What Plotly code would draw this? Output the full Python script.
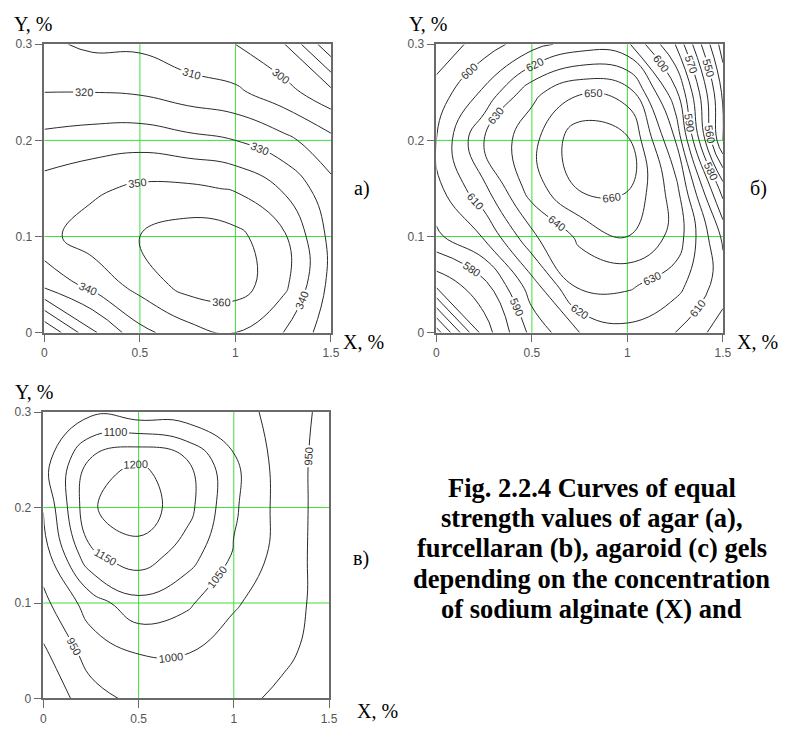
import plotly.graph_objects as go

W, H = 794, 730

# Grid of concentrations
X = [0, 0.25, 0.5, 0.75, 1.0, 1.25, 1.5]
Y = [0, 0.05, 0.1, 0.15, 0.2, 0.25, 0.3]

# a) agar gel strength (rows: Y from 0 to 0.3, columns: X from 0 to 1.5)
Z_agar = [
    [290, 318, 337, 346, 350, 340, 324],
    [333, 343, 354, 364, 365, 353, 327],
    [347, 355, 360, 365, 363, 352, 327],
    [344, 348, 352, 352, 349, 339, 323],
    [333, 335, 336, 333, 330, 323, 313],
    [320, 320, 319, 315, 312, 304, 293],
    [312, 308, 308, 303, 300, 291, 262],
]

# б) furcellaran gel strength
Z_furc = [
    [515, 565, 593, 610, 617, 610, 595],
    [563, 577, 606, 633, 632, 624, 605],
    [588, 601, 628, 642, 650, 637, 598],
    [597, 618, 645, 661, 661, 634, 575],
    [600, 630, 647, 667, 662, 620, 540],
    [594, 612, 637, 649, 645, 603, 538],
    [583, 595, 606, 615, 612, 580, 525],
]

# в) agaroid gel strength
Z_agaroid = [
    [860, 930, 965, 972, 960, 943, 925],
    [893, 975, 1004, 1003, 980, 958, 935],
    [937, 1025, 1085, 1060, 1005, 975, 928],
    [975, 1140, 1180, 1125, 1045, 980, 925],
    [1003, 1195, 1230, 1170, 1058, 982, 925],
    [1030, 1155, 1198, 1152, 1055, 980, 927],
    [1010, 1040, 1020, 1020, 1025, 978, 935],
]

levels = {
    "a": (260, 360, 10),
    "b": (520, 660, 10),
    "c": (900, 1200, 50),
}

x_ticks = [0, 0.5, 1, 1.5]
x_ticktext = ["0", "0.5", "1", "1.5"]
y_ticks = [0, 0.1, 0.2, 0.3]
y_ticktext = ["0", "0.1", "0.2", "0.3"]

caption_lines = [
    "Fig. 2.2.4 Curves of equal",
    "strength values of agar (a),",
    "furcellaran (b), agaroid (c) gels",
    "depending on the concentration",
    "of sodium alginate (X) and",
]

# pixel boxes of the three plot areas (left, right, top, bottom)
boxes = {
    "a": (42, 333, 38, 332),
    "b": (440, 731, 38, 332),
    "c": (41, 331, 413, 705),
}

def px_x(p):
    return p / W

def px_y(p):
    return 1 - p / H

fig = go.Figure()

panels = [("a", Z_agar, "x", "y"), ("b", Z_furc, "x2", "y2"), ("c", Z_agaroid, "x3", "y3")]
for key, Z, xa, ya in panels:
    s, e, step = levels[key]
    fig.add_trace(go.Contour(
        x=X, y=Y, z=Z, xaxis=xa, yaxis=ya,
        contours=dict(start=s, end=e, size=step, coloring="lines", showlabels=True,
                      labelfont=dict(size=11, color="#333333", family="Liberation Sans, Arial")),
        line=dict(width=1, smoothing=1.3),
        colorscale=[[0, "#2a2a2a"], [1, "#2a2a2a"]],
        showscale=False, hoverinfo="skip",
    ))

layout = dict(
    width=W, height=H, margin=dict(l=0, r=0, t=0, b=0),
    paper_bgcolor="white", plot_bgcolor="white", showlegend=False,
)

grid_color = "#3ce03c"
shapes = []
for i, key in enumerate(["a", "b", "c"]):
    l, r, t, b = boxes[key]
    sfx = "" if i == 0 else str(i + 1)
    common = dict(showline=True, mirror=True, linecolor="#6a6a6a", linewidth=1.5,
                  ticks="outside", tickcolor="#6a6a6a", ticklen=8, tickwidth=1.2,
                  showgrid=False, zeroline=False,
                  tickfont=dict(family="Liberation Sans, Arial", size=12, color="#555555"),
                  fixedrange=True)
    layout["xaxis" + sfx] = dict(domain=[px_x(l), px_x(r)], range=[0, 1.5],
                                 tickvals=x_ticks, ticktext=x_ticktext,
                                 anchor="y" + sfx, **common)
    layout["yaxis" + sfx] = dict(domain=[px_y(b), px_y(t)], range=[0, 0.3],
                                 tickvals=y_ticks, ticktext=y_ticktext,
                                 anchor="x" + sfx, **common)
    xr = "x" + sfx
    yr = "y" + sfx
    for xv in x_ticks[1:-1]:
        shapes.append(dict(type="line", xref=xr, yref=yr + " domain", x0=xv, x1=xv, y0=0, y1=1,
                           line=dict(color=grid_color, width=1), layer="below"))
    for yv in y_ticks[1:-1]:
        shapes.append(dict(type="line", xref=xr + " domain", yref=yr, x0=0, x1=1, y0=yv, y1=yv,
                           line=dict(color=grid_color, width=1), layer="below"))

annotations = []
serif = "Liberation Serif, Times New Roman, serif"

def add_text(txt, cx, cy, size=20, bold=False):
    annotations.append(dict(
        text=("<b>%s</b>" % txt) if bold else txt,
        x=px_x(cx), y=px_y(cy), xref="paper", yref="paper",
        xanchor="center", yanchor="middle", showarrow=False,
        font=dict(family=serif, size=size, color="black"),
    ))

# axis titles and panel letters
add_text("Y, %", 31, 17)
add_text("X, %", 366, 342)
add_text("а)", 365, 185)
add_text("Y, %", 432, 17)
add_text("X, %", 766, 342)
add_text("б)", 767, 185)
add_text("Y, %", 32, 393)
add_text("X, %", 380, 718)
add_text("в)", 363, 562)

caption_y = [490, 521, 552, 583, 614]
for line, cy in zip(caption_lines, caption_y):
    add_text(line, 598, cy, size=26.5, bold=True)

layout["annotations"] = annotations
layout["shapes"] = shapes
fig.update_layout(**layout)
fig.write_html("out.html")
